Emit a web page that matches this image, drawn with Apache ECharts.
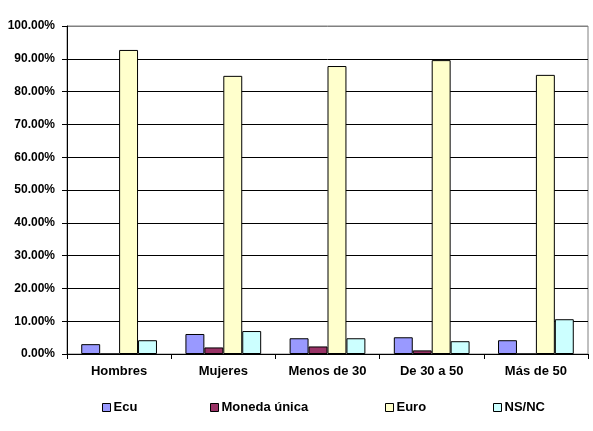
<!DOCTYPE html>
<html>
<head>
<meta charset="utf-8">
<script src="https://cdn.jsdelivr.net/npm/echarts@6/dist/echarts.min.js"></script>
<style>
html,body{margin:0;padding:0;background:#fff;}
#c{width:593px;height:431px;}
</style>
</head>
<body>
<div id="c"></div>
<script>
var categories = ['Hombres', 'Mujeres', 'Menos de 30', 'De 30 a 50', 'Más de 50'];
var ecu = [3.0, 6.1, 4.8, 5.1, 4.2];
var monedaUnica = [0, 2.0, 2.3, 1.1, 0];
var euro = [92.7, 84.8, 87.8, 89.6, 85.1];
var nsnc = [4.2, 7.0, 4.8, 3.9, 10.6];
var seriesNames = ['Ecu', 'Moneda única', 'Euro', 'NS/NC'];
var seriesColors = ['#9999FF', '#993366', '#FFFFCC', '#CCFFFF'];
var seriesData = [ecu, monedaUnica, euro, nsnc];

var font = 'Arial, "Liberation Sans", sans-serif';
var chart = echarts.init(document.getElementById('c'), null, {renderer: 'canvas'});

var legendLeft = [102, 210, 385, 493];
var legends = seriesNames.map(function (n, i) {
  return {
    data: [n],
    left: legendLeft[i],
    top: 401,
    padding: 0,
    itemWidth: 8,
    itemHeight: 8,
    itemGap: 0,
    icon: 'rect',
    selectedMode: false,
    textStyle: {fontFamily: font, fontSize: 13, fontWeight: 'bold', color: '#000', padding: [0, 0, 0, -2]},
    itemStyle: {borderColor: '#000', borderWidth: 1}
  };
});

var splitColors = [];
for (var k = 0; k < 10; k++) splitColors.push('#000');
splitColors.push('#808080');

chart.setOption({
  animation: false,
  backgroundColor: '#fff',
  legend: legends,
  grid: {left: 67, right: 5, top: 26, bottom: 77, show: true, borderColor: '#808080', borderWidth: 1, backgroundColor: '#fff'},
  xAxis: {
    type: 'category',
    data: categories,
    axisLine: {lineStyle: {color: '#000', width: 1}},
    axisTick: {show: true, length: 5, lineStyle: {color: '#000'}},
    axisLabel: {fontFamily: font, fontSize: 13, fontWeight: 'bold', color: '#000', margin: 11}
  },
  yAxis: {
    type: 'value',
    min: 0,
    max: 100,
    interval: 10,
    axisLine: {show: true, lineStyle: {color: '#000', width: 1}},
    axisTick: {show: true, length: 5, lineStyle: {color: '#000'}},
    axisLabel: {fontFamily: font, fontSize: 12, fontWeight: 'bold', color: '#000', margin: 12,
      formatter: function (v) { return v.toFixed(2) + '%'; }},
    splitLine: {show: true, lineStyle: {color: splitColors, width: 1}}
  },
  series: seriesNames.map(function (n, i) {
    return {
      name: n,
      type: 'bar',
      data: seriesData[i],
      barGap: '0%',
      barCategoryGap: '27.3%',
      itemStyle: {color: seriesColors[i], borderColor: '#000', borderWidth: 1}
    };
  })
});
</script>
</body>
</html>
